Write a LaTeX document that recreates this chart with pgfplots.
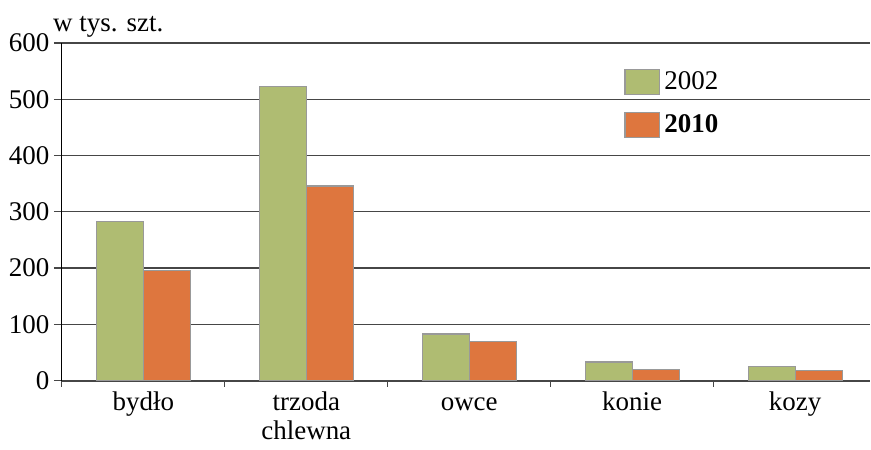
\documentclass[border=0pt]{standalone}
\usepackage{fontspec}
\setmainfont{Liberation Serif}
\usepackage{pgfplots}
\pgfplotsset{compat=1.18}

\definecolor{barGreen}{RGB}{175,188,114}
\definecolor{barOrange}{RGB}{222,118,62}
\definecolor{gridGray}{RGB}{70,70,70}

\begin{document}
\fontsize{13.5}{15}\selectfont
\begin{tikzpicture}
\begin{axis}[
	scale only axis,
	width=404.5pt, height=169pt,
	ybar=0pt, bar width=23.5pt,
	xmin=-0.5, xmax=4.46,
	ymin=0, ymax=600,
	ytick={0,100,...,600},
	xtick={0,1,2,3,4},
	xticklabels={\strut bydło, {\strut trzoda\\chlewna}, \strut owce, \strut konie, \strut kozy},
	xticklabel style={align=center, yshift=4.5pt},
	yticklabel style={xshift=2.5pt},
	minor xtick={-0.5,0.5,1.5,2.5,3.5},
	major x tick style={draw=none},
	minor tick length=3pt,
	xtick pos=bottom, ytick pos=left,
	tick align=outside,
	major tick length=4pt,
	tick style={gridGray, line width=0.6pt},
	ymajorgrids=true,
	grid style={gridGray, line width=0.6pt},
	axis x line*=bottom,
	axis y line*=left,
	x axis line style={gridGray, line width=0.9pt, -},
	y axis line style={black, line width=0.6pt, -},
	/pgf/number format/assume math mode=true,
	legend style={at={(0.688,0.94)}, anchor=north west, draw=none, fill=none,
		legend cell align=left, row sep=6.5pt, font=\fontsize{13.5}{15}\selectfont},
	legend image code/.code={\draw[#1, draw=gray!80, line width=0.6pt] (0pt,-6pt) rectangle (17.5pt,6.5pt);},
	clip=false,
]
\addplot[fill=barGreen, draw=gray!80, line width=0.6pt] coordinates {
	(0, 283) (1, 522) (2, 83) (3, 33) (4, 25)
};
\addlegendentry{2002}
\addplot[fill=barOrange, draw=gray!80, line width=0.6pt] coordinates {
	(0, 196) (1, 346) (2, 69) (3, 20) (4, 18)
};
\addlegendentry{\textbf{2010}}
\node[anchor=base west, inner sep=0pt] at ([xshift=-4.5pt, yshift=5.5pt]rel axis cs:0,1) {w tys. szt.};
\path (rel axis cs:0,1) -- ([yshift=21.5pt]rel axis cs:0,1);
\end{axis}
\end{tikzpicture}
\end{document}
